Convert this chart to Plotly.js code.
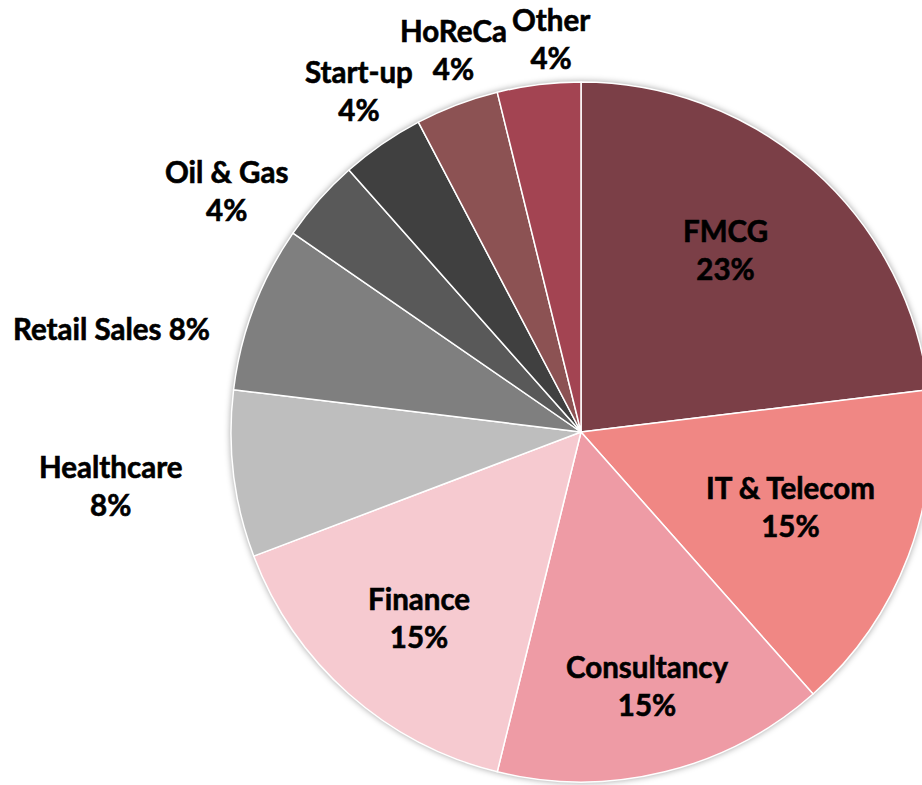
<!DOCTYPE html>
<html>
<head>
<meta charset="utf-8">
<script src="https://cdn.plot.ly/plotly-3.0.1.min.js"></script>
<style>
  html, body { margin: 0; padding: 0; background: #fff; overflow: hidden; }
  #chart { width: 960px; height: 785px; }
  .pielayer { filter: drop-shadow(0px 0px 3px rgba(0,0,0,0.35)); }
  .annotation-text { stroke: #000000; stroke-width: 0.6px; paint-order: stroke fill; }
</style>
</head>
<body>
<div id="chart"></div>
<script>
// Data
const categories = ["FMCG", "IT & Telecom", "Consultancy", "Finance", "Healthcare", "Retail Sales", "Oil & Gas", "Start-up", "HoReCa", "Other"];
const counts = [6, 4, 4, 4, 2, 2, 1, 1, 1, 1];
const sliceColors = ["#7B3F47", "#F08784", "#EE9BA5", "#F6CAD0", "#BEBEBE", "#7F7F7F", "#595959", "#404040", "#8C5253", "#A34452"];

// Layout geometry (pixels in the 922x785 view)
const W = 960, H = 785;
const cx = 581, cy = 432, R = 350;
// label block centres and line break style (layout, not data)
const labelSpots = [
  [725, 250, true], [790, 506, true], [647, 685, true], [419, 617, true],
  [110, 485, true], [111, 328, false], [226, 191, true], [359, 91, true],
  [453, 50, true], [551, 39, true]
];

const total = counts.reduce((a, b) => a + b, 0);
const fontSpec = { family: "Lato, 'Open Sans', sans-serif", size: 29.5, color: "#000000", weight: "bold" };

const trace = {
  type: "pie",
  labels: categories,
  values: counts,
  sort: false,
  direction: "clockwise",
  rotation: 0,
  marker: { colors: sliceColors, line: { color: "#ffffff", width: 1.5 } },
  textinfo: "none",
  hoverinfo: "none",
  automargin: false,
  domain: { x: [(cx - R) / W, (cx + R) / W], y: [1 - (cy + R) / H, 1 - (cy - R) / H] }
};

const annotations = categories.map((name, i) => {
  const pct = Math.round(counts[i] / total * 100) + "%";
  const [px, py, twoLine] = labelSpots[i];
  return {
    xref: "paper", yref: "paper",
    x: px / W, y: 1 - py / H,
    xanchor: "center", yanchor: "middle",
    text: twoLine ? name + "<br>" + pct : name + " " + pct,
    showarrow: false,
    align: "center",
    font: fontSpec
  };
});

const layout = {
  width: W, height: H,
  margin: { l: 0, r: 0, t: 0, b: 0 },
  showlegend: false,
  paper_bgcolor: "#ffffff",
  plot_bgcolor: "#ffffff",
  annotations: annotations
};

Plotly.newPlot("chart", [trace], layout, { staticPlot: true, displayModeBar: false });
</script>
</body>
</html>
